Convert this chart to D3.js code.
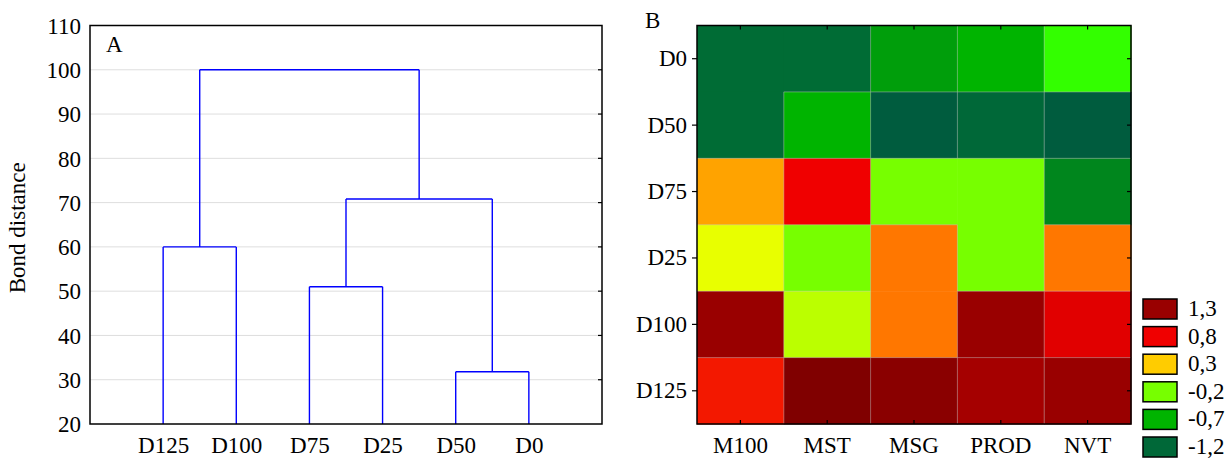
<!DOCTYPE html>
<html>
<head>
<meta charset="utf-8">
<script src="https://cdn.jsdelivr.net/npm/d3@7"></script>
<style>
  html, body { margin: 0; padding: 0; background: #fff; }
  svg { display: block; }
  text { font-family: "Liberation Serif", "Times New Roman", serif; fill: #000; }
</style>
</head>
<body>
<svg id="chart" width="1227" height="458"></svg>
<script>
// ---- Panel A: cluster tree ----
const leaves = ["D125", "D100", "D75", "D25", "D50", "D0"];
// each merge joins two nodes (leaf names or earlier merges "C1".."C5")
const mergeLeft   = ["D125", "D75", "D50", "C2", "C1"];
const mergeRight  = ["D100", "D25", "D0", "C3", "C4"];
const mergeHeight = [60, 51, 31.8, 70.8, 100];
const distTicks = [20, 30, 40, 50, 60, 70, 80, 90, 100, 110];

// ---- Panel B: standardised values per trait ----
const rowLabels = ["D0", "D50", "D75", "D25", "D100", "D125"];
const colLabels = ["M100", "MST", "MSG", "PROD", "NVT"];
const m100 = [-1.18, -1.18, 0.42, 0.18, 1.30, 0.75];
const mst  = [-1.18, -0.70, 0.80, -0.20, 0.02, 1.55];
const msg  = [-0.87, -1.36, -0.20, 0.55, 0.55, 1.45];
const prod = [-0.70, -1.20, -0.20, -0.20, 1.30, 1.22];
const nvt  = [-0.45, -1.36, -1.03, 0.55, 0.88, 1.30];
const legendValues = [1.3, 0.8, 0.3, -0.2, -0.7, -1.2];
const legendLabels = ["1,3", "0,8", "0,3", "-0,2", "-0,7", "-1,2"];

const svg = d3.select("#chart");
const FS = 23;

// ================= Panel A =================
const A = { left: 90, right: 602, top: 25.5, bottom: 424 };
const x = d3.scalePoint().domain(leaves).range([A.left, A.right]).padding(1);
const y = d3.scaleLinear().domain([20, 110]).range([A.bottom, A.top]);

const gA = svg.append("g");
// horizontal grid
gA.append("g").selectAll("line")
  .data(distTicks.filter(t => t > 20 && t < 110))
  .join("line")
  .attr("x1", A.left).attr("x2", A.right)
  .attr("y1", d => y(d)).attr("y2", d => y(d))
  .attr("stroke", "#dedede").attr("stroke-width", 1);

// y axis (labels on the left)
const yAxis = d3.axisLeft(y).tickValues(distTicks).tickSize(0).tickPadding(9);
const gy = gA.append("g").attr("transform", `translate(${A.left},0)`).call(yAxis);
gy.select(".domain").remove();
gy.selectAll("text").style("font-size", FS + "px").style("font-family", "Liberation Serif").attr("dy", "0.34em");

// right-side inward ticks
gA.append("g").selectAll("line")
  .data(distTicks.filter(t => t > 20 && t < 110))
  .join("line")
  .attr("x1", A.right - 4).attr("x2", A.right)
  .attr("y1", d => y(d)).attr("y2", d => y(d))
  .attr("stroke", "#000").attr("stroke-width", 1.2);

// x labels
const xAxis = d3.axisBottom(x).tickSize(0).tickPadding(13);
const gx = gA.append("g").attr("transform", `translate(0,${A.bottom})`).call(xAxis);
gx.select(".domain").remove();
gx.selectAll("text").style("font-size", FS + "px").style("font-family", "Liberation Serif");

// tree links
svg.append("defs").append("clipPath").attr("id", "clipA")
  .append("rect").attr("x", A.left).attr("y", A.top).attr("width", A.right - A.left).attr("height", A.bottom - A.top);

const nodePos = {};
leaves.forEach(l => { nodePos[l] = { x: x(l), h: 0 }; });
const treeSegs = [];
mergeHeight.forEach((h, i) => {
  const a = nodePos[mergeLeft[i]], b = nodePos[mergeRight[i]];
  treeSegs.push({ x1: a.x, x2: a.x, h1: a.h, h2: h });
  treeSegs.push({ x1: b.x, x2: b.x, h1: b.h, h2: h });
  treeSegs.push({ x1: a.x, x2: b.x, h1: h, h2: h });
  nodePos["C" + (i + 1)] = { x: (a.x + b.x) / 2, h: h };
});
gA.append("g").attr("clip-path", "url(#clipA)")
  .selectAll("line").data(treeSegs).join("line")
  .attr("x1", d => d.x1).attr("x2", d => d.x2)
  .attr("y1", d => y(d.h1)).attr("y2", d => y(d.h2))
  .attr("stroke", "#0000ff").attr("stroke-width", 1.4);

// frame
gA.append("rect").attr("x", A.left).attr("y", A.top)
  .attr("width", A.right - A.left).attr("height", A.bottom - A.top)
  .attr("fill", "none").attr("stroke", "#000").attr("stroke-width", 1.5);

gA.append("text").attr("x", 106).attr("y", 52).style("font-size", FS + "px").text("A");
gA.append("text")
  .attr("transform", `translate(25,${(A.top + A.bottom) / 2 + 3}) rotate(-90)`)
  .attr("text-anchor", "middle").style("font-size", FS + "px").text("Bond distance");

// ================= Panel B =================
const B = { left: 697, right: 1131, top: 25.5, bottom: 424 };
const bx = d3.scaleBand().domain(colLabels).range([B.left, B.right]);
const by = d3.scaleBand().domain(rowLabels).range([B.top, B.bottom]);

const colour = d3.scaleLinear()
  .domain([-1.5, -1.2, -0.95, -0.7, -0.45, -0.2, 0.05, 0.2, 0.3, 0.55, 0.8, 1.05, 1.3, 1.55])
  .range(["#005244", "#006838", "#009410", "#00b400", "#33ff00", "#77ff00", "#c4ff00", "#eeff00",
          "#ffcc00", "#ff7700", "#f00000", "#c00000", "#990000", "#800000"])
  .clamp(true);

const columns = [m100, mst, msg, prod, nvt];
const cells = [];
rowLabels.forEach((r, i) => colLabels.forEach((c, j) => {
  cells.push({ r, c, i, j, v: columns[j][i] });
}));

const gB = svg.append("g");
gB.append("g").selectAll("rect").data(cells).join("rect")
  .attr("x", d => bx(d.c)).attr("y", d => by(d.r))
  .attr("width", bx.bandwidth() + 0.5).attr("height", by.bandwidth() + 0.5)
  .attr("fill", d => colour(d.v));

// faint contour edges between cells of different value
const edges = [];
cells.forEach(d => {
  if (d.j < colLabels.length - 1 && columns[d.j + 1][d.i] !== d.v) {
    const xe = bx(d.c) + bx.bandwidth();
    edges.push({ x1: xe, x2: xe, y1: by(d.r), y2: by(d.r) + by.bandwidth() });
  }
  if (d.i < rowLabels.length - 1 && columns[d.j][d.i + 1] !== d.v) {
    const ye = by(d.r) + by.bandwidth();
    edges.push({ x1: bx(d.c), x2: bx(d.c) + bx.bandwidth(), y1: ye, y2: ye });
  }
});
gB.append("g").selectAll("line").data(edges).join("line")
  .attr("x1", d => d.x1).attr("x2", d => d.x2).attr("y1", d => d.y1).attr("y2", d => d.y2)
  .attr("stroke", "rgba(200,200,200,0.45)").attr("stroke-width", 1);

// ticks: top/bottom/right inward, left outward
const colCenters = colLabels.map(c => bx(c) + bx.bandwidth() / 2);
const rowCenters = rowLabels.map(r => by(r) + by.bandwidth() / 2);
const tk = [];
colCenters.forEach(cx => {
  tk.push({ x1: cx, x2: cx, y1: B.top, y2: B.top + 4 });
  tk.push({ x1: cx, x2: cx, y1: B.bottom, y2: B.bottom - 4 });
});
rowCenters.forEach(cy => {
  tk.push({ x1: B.left - 5, x2: B.left, y1: cy, y2: cy });
  tk.push({ x1: B.right - 4, x2: B.right, y1: cy, y2: cy });
});
gB.append("g").selectAll("line").data(tk).join("line")
  .attr("x1", d => d.x1).attr("x2", d => d.x2).attr("y1", d => d.y1).attr("y2", d => d.y2)
  .attr("stroke", "#000").attr("stroke-width", 1.2);

gB.append("rect").attr("x", B.left).attr("y", B.top)
  .attr("width", B.right - B.left).attr("height", B.bottom - B.top)
  .attr("fill", "none").attr("stroke", "#000").attr("stroke-width", 1.5);

// axis labels
const byAxis = d3.axisLeft(by).tickSize(0).tickPadding(10);
const gby = gB.append("g").attr("transform", `translate(${B.left},0)`).call(byAxis);
gby.select(".domain").remove();
gby.selectAll("text").style("font-size", FS + "px").style("font-family", "Liberation Serif");

const bxAxis = d3.axisBottom(bx).tickSize(0).tickPadding(13);
const gbx = gB.append("g").attr("transform", `translate(0,${B.bottom})`).call(bxAxis);
gbx.select(".domain").remove();
gbx.selectAll("text").style("font-size", FS + "px").style("font-family", "Liberation Serif");

gB.append("text").attr("x", 645).attr("y", 28).style("font-size", FS + "px").text("B");

// legend
const lg = gB.append("g");
const ly = d3.scalePoint().domain(legendValues).range([299, 437]);
lg.selectAll("rect").data(legendValues).join("rect")
  .attr("x", 1143).attr("y", d => ly(d))
  .attr("width", 34).attr("height", 20)
  .attr("fill", d => colour(d)).attr("stroke", "#000").attr("stroke-width", 1.5);
lg.selectAll("text").data(legendValues).join("text")
  .attr("x", 1188).attr("y", d => ly(d) + 17)
  .style("font-size", FS + "px")
  .text((d, i) => legendLabels[i]);
</script>
</body>
</html>
